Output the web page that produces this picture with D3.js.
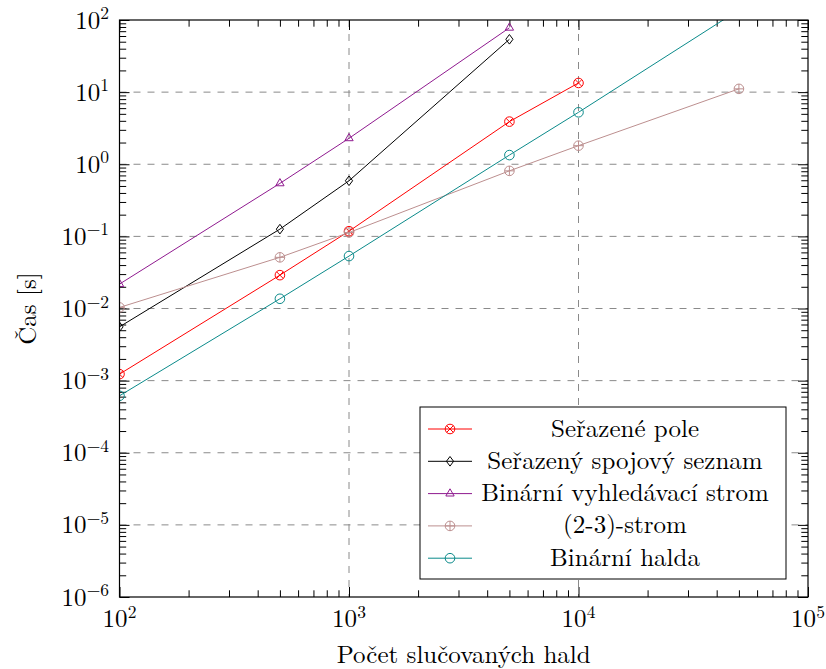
<!DOCTYPE html>
<html>
<head>
<meta charset="utf-8">
<script src="https://cdn.jsdelivr.net/npm/d3@7"></script>
<style>
  html, body { margin: 0; padding: 0; background: #fff; }
</style>
</head>
<body>
<svg id="chart" width="826" height="669"></svg>
<script>
// Naměřené časy slučování hald (log-log)
const seriesNames = [
  "Seřazené pole",
  "Seřazený spojový seznam",
  "Binární vyhledávací strom",
  "(2-3)-strom",
  "Binární halda"
];
const sortedArrayN = [100, 500, 1000, 5000, 10000];
const sortedArrayT = [0.00123, 0.029, 0.118, 3.9, 13.4];
const linkedListN = [100, 500, 1000, 5000];
const linkedListT = [0.00557, 0.126, 0.59, 54];
const bstN = [100, 500, 1000, 5000];
const bstT = [0.0218, 0.543, 2.29, 78];
const tree23N = [100, 500, 1000, 5000, 10000, 50000];
const tree23T = [0.01035, 0.0512, 0.113, 0.81, 1.81, 11.1];
const heapN = [100, 500, 1000, 5000, 10000, 50000];
const heapT = [0.000616, 0.01364, 0.0533, 1.34, 5.25, 138];

const xTickExponents = [2, 3, 4, 5];
const yTickExponents = [-6, -5, -4, -3, -2, -1, 0, 1, 2];
const xLabel = "Počet slučovaných hald";
const yLabel = "Čas [s]";

const seriesStyle = [
  { color: "#ff0000", mark: "otimes" },
  { color: "#000000", mark: "diamond" },
  { color: "#8f1a8f", mark: "triangle" },
  { color: "#bc8f8f", mark: "oplus" },
  { color: "#0a8a8a", mark: "circle" }
];
const seriesData = [
  [sortedArrayN, sortedArrayT],
  [linkedListN, linkedListT],
  [bstN, bstT],
  [tree23N, tree23T],
  [heapN, heapT]
].map(([n, t]) => n.map((v, i) => ({ n: v, t: t[i] })));

const FONT = "'Latin Modern Roman'";
const svg = d3.select("#chart");
const pL = 119.5, pR = 808, pT = 20, pB = 597;
const W = pR - pL, H = pB - pT;
const FS = 25;

const x = d3.scaleLog().domain([1e2, 1e5]).range([pL, pR]);
const y = d3.scaleLog().domain([1e-6, 1e2]).range([pB, pT]);

const majorX = xTickExponents.map(e => Math.pow(10, e));
const majorY = yTickExponents.map(e => Math.pow(10, e));
const minorOf = (exps) => {
  const out = [];
  for (let i = 0; i < exps.length - 1; i++)
    for (let k = 2; k <= 9; k++) out.push(k * Math.pow(10, exps[i]));
  return out;
};
const minorX = minorOf(xTickExponents);
const minorY = minorOf(yTickExponents);

// mřížka
const grid = svg.append("g").attr("stroke", "#8a8a8a").attr("stroke-width", 1)
  .attr("stroke-dasharray", "7,7").attr("fill", "none");
majorX.slice(1, -1).forEach(v => grid.append("line")
  .attr("x1", x(v)).attr("x2", x(v)).attr("y1", pT).attr("y2", pB));
majorY.slice(1, -1).forEach(v => grid.append("line")
  .attr("x1", pL).attr("x2", pR).attr("y1", y(v)).attr("y2", y(v)));

// osy s tiky dovnitř na všech stranách
function styleAxis(g) {
  g.select(".domain").remove();
  g.selectAll("line").attr("stroke", "#000").attr("stroke-width", 1);
  g.selectAll("text").remove();
}
const axes = svg.append("g");
axes.append("g").attr("transform", `translate(0,${pB})`)
  .call(d3.axisBottom(x).tickValues(majorX).tickSize(-10).tickFormat("")).call(styleAxis);
axes.append("g").attr("transform", `translate(0,${pB})`)
  .call(d3.axisBottom(x).tickValues(minorX).tickSize(-6.7).tickFormat("")).call(styleAxis);
axes.append("g").attr("transform", `translate(0,${pT})`)
  .call(d3.axisTop(x).tickValues(majorX).tickSize(-10).tickFormat("")).call(styleAxis);
axes.append("g").attr("transform", `translate(0,${pT})`)
  .call(d3.axisTop(x).tickValues(minorX).tickSize(-6.7).tickFormat("")).call(styleAxis);
axes.append("g").attr("transform", `translate(${pL},0)`)
  .call(d3.axisLeft(y).tickValues(majorY).tickSize(-10).tickFormat("")).call(styleAxis);
axes.append("g").attr("transform", `translate(${pL},0)`)
  .call(d3.axisLeft(y).tickValues(minorY).tickSize(-6.7).tickFormat("")).call(styleAxis);
axes.append("g").attr("transform", `translate(${pR},0)`)
  .call(d3.axisRight(y).tickValues(majorY).tickSize(-10).tickFormat("")).call(styleAxis);
axes.append("g").attr("transform", `translate(${pR},0)`)
  .call(d3.axisRight(y).tickValues(minorY).tickSize(-6.7).tickFormat("")).call(styleAxis);

function addText(parent) {
  return parent.append("text").style("font-family", FONT).attr("fill", "#000")
    .attr("font-size", FS);
}

// popisky tiků 10^n
function powerLabel(sel, e) {
  sel.append("tspan").text("10");
  sel.append("tspan").attr("font-size", FS * 0.7).attr("dy", -9.5)
    .text(e < 0 ? "\u2212" + (-e) : String(e));
}
xTickExponents.forEach(e => {
  addText(svg).attr("x", x(Math.pow(10, e))).attr("y", 627)
    .attr("text-anchor", "middle").call(powerLabel, e);
});
yTickExponents.forEach(e => {
  addText(svg).attr("x", 109).attr("y", y(Math.pow(10, e)) + 8.5)
    .attr("text-anchor", "end").call(powerLabel, e);
});

// názvy os
addText(svg).attr("x", (pL + pR) / 2).attr("y", 663)
  .attr("text-anchor", "middle").text(xLabel);
addText(svg).attr("transform", `translate(36,${(pT + pB) / 2}) rotate(-90)`)
  .attr("text-anchor", "middle").text(yLabel);

// značky
const R = 4.8;
function drawMark(g, type, cx, cy, color) {
  const m = g.append("g").attr("transform", `translate(${cx},${cy})`)
    .attr("stroke", color).attr("stroke-width", 1).attr("fill", "none");
  if (type === "circle" || type === "otimes" || type === "oplus")
    m.append("circle").attr("r", R);
  if (type === "otimes") {
    const d = R / Math.SQRT2;
    m.append("path").attr("d", `M${-d},${-d}L${d},${d}M${-d},${d}L${d},${-d}`);
  }
  if (type === "oplus")
    m.append("path").attr("d", `M${-R},0L${R},0M0,${-R}L0,${R}`);
  if (type === "diamond")
    m.append("path").attr("d", `M0,${-R}L${0.75 * R},0L0,${R}L${-0.75 * R},0Z`);
  if (type === "triangle") {
    const a = R * Math.cos(Math.PI / 6), b = R * Math.sin(Math.PI / 6);
    m.append("path").attr("d", `M0,${-R}L${a},${b}L${-a},${b}Z`);
  }
}

svg.append("clipPath").attr("id", "plotClip").append("rect")
  .attr("x", pL).attr("y", pT).attr("width", W).attr("height", H);

const plot = svg.append("g").attr("clip-path", "url(#plotClip)");
const line = d3.line().x(d => x(d.n)).y(d => y(d.t));
seriesData.forEach((data, i) => {
  const st = seriesStyle[i];
  const g = plot.append("g");
  g.append("path").datum(data).attr("d", line)
    .attr("fill", "none").attr("stroke", st.color).attr("stroke-width", 1);
  data.forEach(d => drawMark(g, st.mark, x(d.n), y(d.t), st.color));
});

// rámeček grafu
svg.append("rect").attr("x", pL).attr("y", pT).attr("width", W).attr("height", H)
  .attr("fill", "none").attr("stroke", "#000").attr("stroke-width", 1.2);

// legenda
const lg = svg.append("g");
lg.append("rect").attr("x", 420).attr("y", 407).attr("width", 366).attr("height", 172)
  .attr("fill", "#fff").attr("stroke", "#000").attr("stroke-width", 1);
seriesNames.forEach((name, i) => {
  const cy = 429 + i * 32.3;
  const st = seriesStyle[i];
  lg.append("line").attr("x1", 428).attr("x2", 472).attr("y1", cy).attr("y2", cy)
    .attr("stroke", st.color).attr("stroke-width", 1);
  drawMark(lg, st.mark, 450, cy, st.color);
  addText(lg).attr("x", 625).attr("y", cy + 7.5).attr("text-anchor", "middle").text(name);
});
</script>
</body>
</html>
